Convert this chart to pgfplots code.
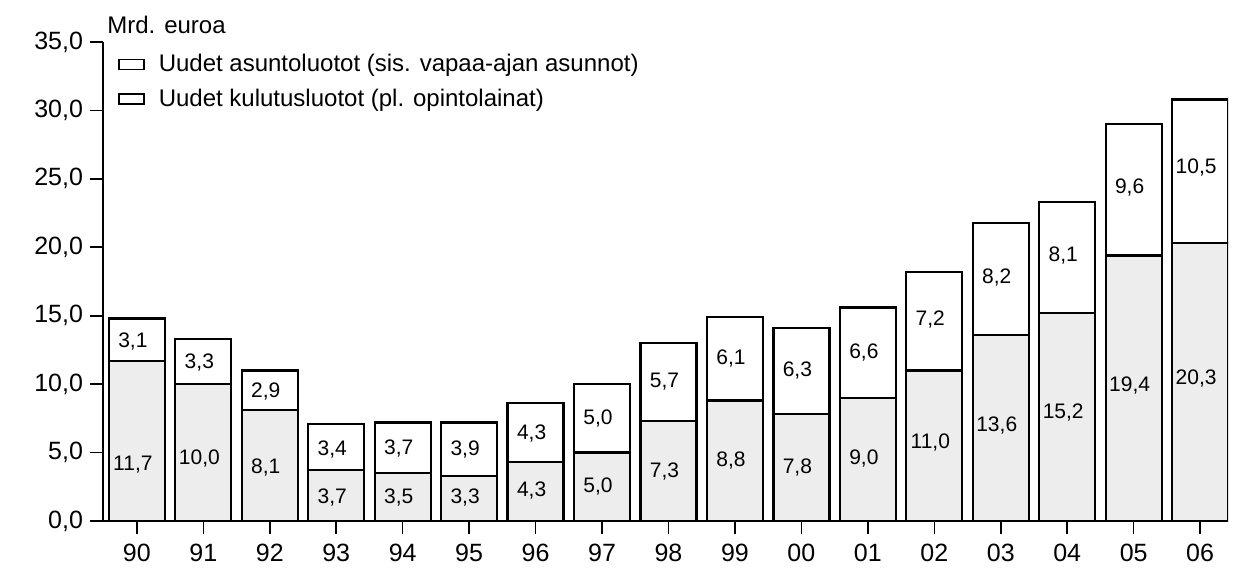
\documentclass[border=0pt]{standalone}
\usepackage{fontspec}
\setmainfont{Liberation Sans}
\usepackage{pgfplots}
\usepackage{pgfplotstable}
\pgfplotsset{compat=1.18}

\pgfplotstableread{
x asunto kulutus
0 11.7 3.1
1 10.0 3.3
2 8.1 2.9
3 3.7 3.4
4 3.5 3.7
5 3.3 3.9
6 4.3 4.3
7 5.0 5.0
8 7.3 5.7
9 8.8 6.1
10 7.8 6.3
11 9.0 6.6
12 11.0 7.2
13 13.6 8.2
14 15.2 8.1
15 19.4 9.6
16 20.3 10.5
}\loans

\pgfplotstableread{
x y label
0 13.1 3,1
0 4.1 11,7
1 11.55 3,3
1 4.6 10,0
2 9.45 2,9
2 3.9 8,1
3 5.25 3,4
3 1.75 3,7
4 5.3 3,7
4 1.7 3,5
5 5.2 3,9
5 1.7 3,3
6 6.4 4,3
6 2.2 4,3
7 7.5 5,0
7 2.5 5,0
8 10.15 5,7
8 3.6 7,3
9 11.9 6,1
9 4.45 8,8
10 11.0 6,3
10 3.9 7,8
11 12.3 6,6
11 4.6 9,0
12 14.7 7,2
12 5.7 11,0
13 17.8 8,2
13 7.0 13,6
14 19.4 8,1
14 7.9 15,2
15 24.4 9,6
15 9.9 19,4
16 25.8 10,5
16 10.4 20,3
}\barlabels

\begin{document}
\begin{tikzpicture}
\path[use as bounding box] (0,0) rectangle (617pt,283.5pt);
\begin{axis}[
  at={(51.5pt,23pt)}, anchor=south west,
  scale only axis, width=562.5pt, height=239.5pt,
  xmin=-0.51, xmax=16.42, ymin=0, ymax=35,
  ybar stacked, bar width=28pt,
  axis x line*=bottom, axis y line*=left,
  axis line style={line width=1pt, black},
  xtick={0,...,16},
  xticklabels={90,91,92,93,94,95,96,97,98,99,00,01,02,03,04,05,06},
  ytick={0,5,...,35},
  tick align=outside, major tick length=6.5pt,
  tick style={black, line width=0.8pt},
  ticklabel style={font=\fontsize{12.5}{14}\selectfont},
  yticklabel style={/pgf/number format/.cd, fixed, fixed zerofill, precision=1, use comma, assume math mode=true},
  xticklabel style={yshift=-1.5pt},
  legend style={at={(0.0133,1)}, anchor=north west, yshift=-5pt, draw=none, fill=none,
    inner sep=0pt, row sep=5pt, font=\fontsize{12}{13.5}\selectfont,
    nodes={inner sep=1pt}, cells={anchor=west},
    /tikz/every odd column/.append style={column sep=6pt}},
  legend image code/.code={\draw[black, fill=white, line width=0.7pt] (0pt,-2.5pt) rectangle (12.5pt,2.5pt);},
]
\addplot[fill=black!7, draw=black, line width=1.1pt] table[x=x,y=asunto]{\loans};
\addlegendentry{Uudet asuntoluotot (sis. vapaa-ajan asunnot)}
\addplot[fill=white, draw=black, line width=1.1pt] table[x=x,y=kulutus]{\loans};
\addlegendentry{Uudet kulutusluotot (pl. opintolainat)}
\end{axis}
\begin{axis}[
  at={(51.5pt,23pt)}, anchor=south west,
  scale only axis, width=562.5pt, height=239.5pt,
  xmin=-0.51, xmax=16.42, ymin=0, ymax=35,
  hide axis, clip=false,
]
\addplot[draw=none, mark=none, nodes near coords, point meta=explicit symbolic,
  nodes near coords align={center},
  every node near coord/.append style={font=\fontsize{10.5}{12}\selectfont, xshift=-2pt, inner sep=0pt, black}]
  table[x=x,y=y,meta=label]{\barlabels};
\end{axis}
\node[anchor=west, font=\fontsize{12}{13.5}\selectfont, inner sep=0pt] at (53.5pt,271pt) {Mrd. euroa};
\end{tikzpicture}
\end{document}
